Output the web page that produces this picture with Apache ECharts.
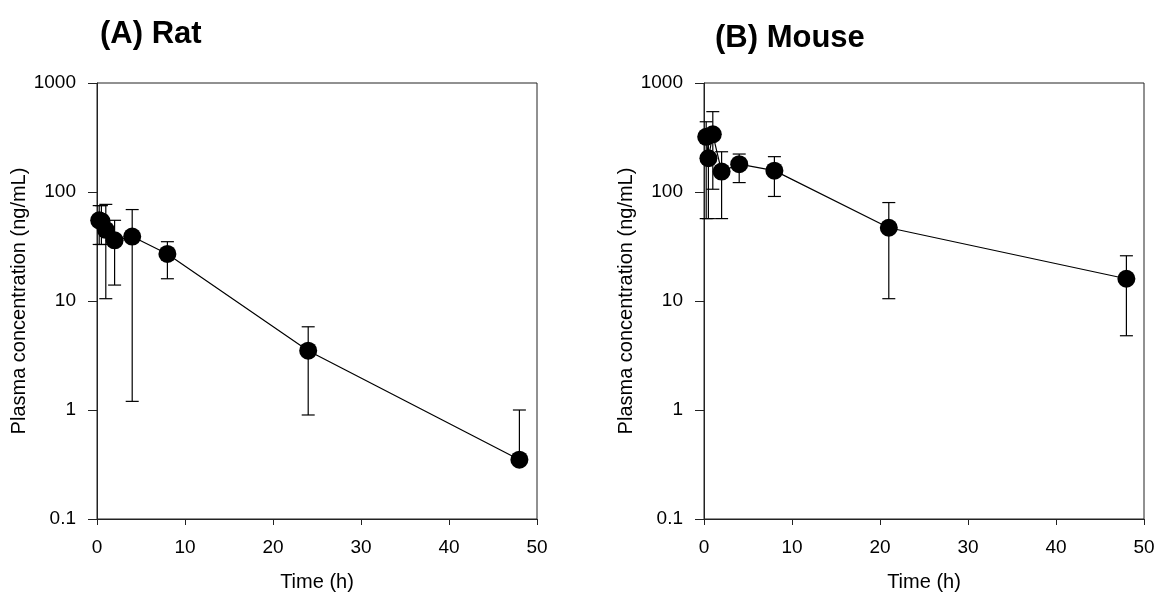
<!DOCTYPE html>
<html>
<head>
<meta charset="utf-8">
<script src="https://cdn.jsdelivr.net/npm/echarts@6/dist/echarts.min.js"></script>
<style>
html,body{margin:0;padding:0;background:#fff;}
#chart{width:1156px;height:599px;}
</style>
</head>
<body>
<div id="chart"></div>
<script>
// Time points (h)
const ratTimes   = [0.25, 0.5, 1, 2, 4, 8, 24, 48];
const mouseTimes = [0.25, 0.5, 1, 2, 4, 8, 21, 48];
// Rat plasma concentration (ng/mL): mean, lower and upper error bar ends
const ratMean  = [55, 54, 45, 36, 39, 27, 3.5, 0.35];
const ratLow   = [33, 33, 10.5, 14, 1.2, 16, 0.9, null];
const ratHigh  = [75, 75, 77, 55, 69, 35, 5.8, 1.0];
// Mouse plasma concentration (ng/mL)
const mouseMean = [321, 204, 338, 154, 180, 157, 47, 16];
const mouseLow  = [57, 57, 106, 57, 122, 91, 10.5, 4.8];
const mouseHigh = [441, 300, 546, 234, 223, 211, 80, 26];
// Axis ticks
const xTicks = [0, 10, 20, 30, 40, 50];
const yTicks = [0.1, 1, 10, 100, 1000];
const titles = ['(A) Rat', '(B) Mouse'];

const FONT = 'Liberation Sans, Arial, sans-serif';

function pairs(ts, m) { return ts.map((t, i) => [t, m[i]]); }
function errData(ts, m, lo, hi) { return ts.map((t, i) => [t, m[i], lo[i] == null ? '-' : lo[i], hi[i]]); }

function renderErr(params, api) {
  const t = api.value(0), m = api.value(1), lo = api.value(2), hi = api.value(3);
  const cap = 6.5;
  const children = [];
  const pm = api.coord([t, m]);
  const style = { stroke: '#000', lineWidth: 1.2 };
  if (hi != null && !isNaN(hi)) {
    const ph = api.coord([t, hi]);
    children.push({ type: 'line', shape: { x1: ph[0], y1: ph[1], x2: pm[0], y2: pm[1] }, style });
    children.push({ type: 'line', shape: { x1: ph[0] - cap, y1: ph[1], x2: ph[0] + cap, y2: ph[1] }, style });
  }
  if (lo != null && !isNaN(lo) && lo > 0) {
    const pl = api.coord([t, lo]);
    children.push({ type: 'line', shape: { x1: pl[0], y1: pl[1], x2: pm[0], y2: pm[1] }, style });
    children.push({ type: 'line', shape: { x1: pl[0] - cap, y1: pl[1], x2: pl[0] + cap, y2: pl[1] }, style });
  }
  return { type: 'group', children };
}

function xAxis(idx) {
  return {
    type: 'value', gridIndex: idx, min: xTicks[0], max: xTicks[xTicks.length - 1], interval: 10,
    name: 'Time (h)', nameLocation: 'middle', nameGap: 53,
    nameTextStyle: { fontFamily: FONT, fontSize: 20, color: '#000' },
    axisLine: { show: true, onZero: false, lineStyle: { color: '#222', width: 1 } },
    axisTick: { show: true, inside: false, length: 6, lineStyle: { color: '#222' } },
    axisLabel: { fontFamily: FONT, fontSize: 19, color: '#000', margin: 19 },
    splitLine: { show: false }
  };
}
function yAxis(idx, gap) {
  return {
    type: 'log', logBase: 10, gridIndex: idx, min: yTicks[0], max: yTicks[yTicks.length - 1],
    name: 'Plasma concentration (ng/mL)', nameLocation: 'middle', nameGap: gap,
    nameTextStyle: { fontFamily: FONT, fontSize: 20, color: '#000' },
    axisLine: { show: true, onZero: false, lineStyle: { color: '#222', width: 1 } },
    axisTick: { show: true, inside: false, length: 9, lineStyle: { color: '#222' } },
    axisLabel: { fontFamily: FONT, fontSize: 19, color: '#000', margin: 21,
      formatter: v => String(parseFloat(Number(v).toPrecision(6))) },
    minorTick: { show: false },
    splitLine: { show: false }
  };
}

const chart = echarts.init(document.getElementById('chart'), null, { renderer: 'canvas' });
chart.setOption({
  animation: false,
  backgroundColor: '#fff',
  title: [
    { text: titles[0], left: 95, top: 14, textStyle: { fontFamily: FONT, fontSize: 31, fontWeight: 'bold', color: '#000' } },
    { text: titles[1], left: 710, top: 18, textStyle: { fontFamily: FONT, fontSize: 31, fontWeight: 'bold', color: '#000' } }
  ],
  grid: [
    { left: 97, top: 83, width: 440, height: 436, show: true, borderColor: '#222', borderWidth: 1, containLabel: false, outerBoundsMode: 'none' },
    { left: 704, top: 83, width: 440, height: 436, show: true, borderColor: '#222', borderWidth: 1, containLabel: false, outerBoundsMode: 'none' }
  ],
  xAxis: [xAxis(0), xAxis(1)],
  yAxis: [yAxis(0, 67), yAxis(1, 64)],
  series: [
    { type: 'custom', xAxisIndex: 0, yAxisIndex: 0, renderItem: renderErr, data: errData(ratTimes, ratMean, ratLow, ratHigh), z: 1, silent: true },
    { type: 'line', xAxisIndex: 0, yAxisIndex: 0, data: pairs(ratTimes, ratMean), symbol: 'circle', symbolSize: 18,
      itemStyle: { color: '#000', borderWidth: 0 }, lineStyle: { color: '#000', width: 1.2 }, z: 3 },
    { type: 'custom', xAxisIndex: 1, yAxisIndex: 1, renderItem: renderErr, data: errData(mouseTimes, mouseMean, mouseLow, mouseHigh), z: 1, silent: true },
    { type: 'line', xAxisIndex: 1, yAxisIndex: 1, data: pairs(mouseTimes, mouseMean), symbol: 'circle', symbolSize: 18,
      itemStyle: { color: '#000', borderWidth: 0 }, lineStyle: { color: '#000', width: 1.2 }, z: 3 }
  ]
});
</script>
</body>
</html>
